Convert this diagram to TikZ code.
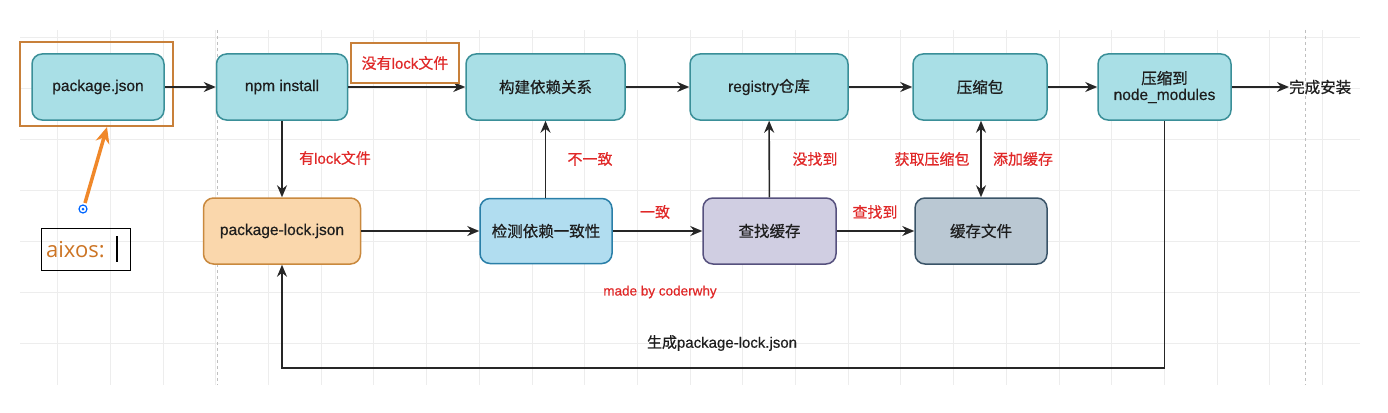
\documentclass[tikz,border=0pt]{standalone}
\usepackage{fontspec}
\setmainfont{Liberation Sans}[BoldFont={Liberation Sans}, BoldFeatures={FakeBold=0.5}]
\newfontfamily\cjk{Noto Sans CJK SC}[BoldFont={Noto Sans CJK SC}, BoldFeatures={FakeBold=0.6}]
\newfontfamily\aixfont{Open Sans}
\usetikzlibrary{arrows.meta}
\definecolor{tealfill}{HTML}{A9DFE6}
\definecolor{tealdraw}{HTML}{3A8F98}
\definecolor{orfill}{HTML}{FAD7AC}
\definecolor{ordraw}{HTML}{C9893E}
\definecolor{bluefill}{HTML}{B1DDF0}
\definecolor{bluedraw}{HTML}{2A7FA8}
\definecolor{lavfill}{HTML}{D0CEE2}
\definecolor{lavdraw}{HTML}{56517E}
\definecolor{grayfill}{HTML}{BAC8D3}
\definecolor{graydraw}{HTML}{3A5468}
\definecolor{redtxt}{HTML}{E02828}
\definecolor{framecol}{HTML}{C8803A}
\definecolor{arrowor}{HTML}{F0882A}
\definecolor{txt}{HTML}{1E1E1E}
\tikzset{
  box/.style={draw, rounded corners=10pt, line width=1.5pt, minimum height=66pt,
    inner sep=0pt, align=center, text=txt, font=\fontsize{15.5}{18}\selectfont\bfseries},
  tealbox/.style={box, fill=tealfill, draw=tealdraw},
  lbl/.style={text=redtxt, font=\fontsize{15}{17}\selectfont\bfseries, inner sep=1pt},
  conn/.style={line width=1.6pt, draw=black!85, -{Stealth[length=12pt,width=10pt]}},
  gridline/.style={draw=black!7, line width=0.8pt},
}
\begin{document}
\begin{tikzpicture}[x=1pt,y=-1pt]
\useasboundingbox (0,0) rectangle (1388,412);
% background grid
\foreach \k in {0,...,24} {\draw[gridline] ({57.6+52.7*\k},30) -- ({57.6+52.7*\k},385);}
\foreach \k in {0,...,6} {\draw[gridline] (20,{37+51*\k}) -- (1360,{37+51*\k});}
\draw[draw=black!25, line width=0.8pt, dashed] (217,30) -- (217,385);
\draw[draw=black!25, line width=0.8pt, dashed] (1305,30) -- (1305,385);

% nodes
\node[tealbox, minimum width=132pt] (pj) at (98,87) {package.json};
\node[tealbox, minimum width=131pt] (npm) at (282,87) {npm install};
\node[tealbox, minimum width=159pt] (dep) at (545.5,87) {\cjk 构建依赖关系};
\node[tealbox, minimum width=158pt] (reg) at (769,87) {registry{\cjk 仓库}};
\node[tealbox, minimum width=134pt] (zip) at (980,87) {\cjk 压缩包};
\node[tealbox, minimum width=133pt] (nm) at (1164.5,87) {{\cjk 压缩到}\\[-2pt]node\_modules};
\node[box, fill=orfill, draw=ordraw, minimum width=157pt] (lock) at (282,231) {package-lock.json};
\node[box, fill=bluefill, draw=bluedraw, minimum width=132pt, minimum height=65pt] (chk) at (546,231) {\cjk 检测依赖一致性};
\node[box, fill=lavfill, draw=lavdraw, minimum width=133pt] (find) at (769.5,231) {\cjk 查找缓存};
\node[box, fill=grayfill, draw=graydraw, minimum width=132pt] (cache) at (981,231) {\cjk 缓存文件};
\node[anchor=west, text=txt, inner sep=0pt, font=\fontsize{15.5}{18}\selectfont\bfseries] (done) at (1289,87) {\cjk 完成安装};

% annotation frame
\node[draw=framecol, line width=2pt, minimum width=153pt, minimum height=84pt, inner sep=0pt] (pjframe) at (96.5,84) {};

% connectors
\draw[conn] (pj) -- (npm);
\draw[conn] (npm) -- (dep);
\draw[conn] (dep) -- (reg);
\draw[conn] (reg) -- (zip);
\draw[conn] (zip) -- (nm);
\draw[conn] (nm) -- (done);
\draw[conn] (npm) -- (lock);
\draw[conn] (lock) -- (chk);
\draw[conn] (chk.north -| dep.south) -- (dep.south);
\draw[conn] (chk) -- (find);
\draw[conn] (find) -- (reg);
\draw[conn] (find) -- (cache);
\draw[line width=1.6pt, draw=black!85, {Stealth[length=12pt,width=10pt]}-{Stealth[length=12pt,width=10pt]}] (zip.south -| cache.north) -- (cache.north);
\coordinate (c1) at (1164.5,368);
\coordinate (c2) at (282,368);
\draw[conn] (nm.south) -- (c1) -- (c2) -- (lock.south);

% label over npm -> dep
\node[draw=framecol, line width=2pt, fill=white, minimum width=108pt, minimum height=40pt, inner sep=0pt, text=redtxt, font=\fontsize{15}{17}\selectfont\bfseries] (nolock) at (405,63) {{\cjk 没有}lock{\cjk 文件}};

% labels
\node[lbl] (l1) at (335,158) {{\cjk 有}lock{\cjk 文件}};
\node[lbl] (l2) at (590,159) {\cjk 不一致};
\node[lbl] (l3) at (815,159) {\cjk 没找到};
\node[lbl] (l4) at (932,159) {\cjk 获取压缩包};
\node[lbl] (l5) at (1023,159) {\cjk 添加缓存};
\node[lbl] (l6) at (655,212) {\cjk 一致};
\node[lbl] (l7) at (875,212) {\cjk 查找到};
\node[lbl, font=\fontsize{13.5}{16}\selectfont\bfseries] (made) at (660,292) {made by coderwhy};
\node[text=txt, font=\fontsize{15}{17}\selectfont\bfseries, inner sep=1pt] (gen) at (722,343) {{\cjk 生成}package-lock.json};

% orange pointer and aixos box
\coordinate (sp) at (83,209);
\draw[arrowor, line width=3.5pt, -{Stealth[length=16pt,width=14pt]}] (85,203) -- (pjframe.south -| 107,0);
\draw[draw=blue!60!cyan, line width=1.2pt] (sp) circle (4pt);
\fill[blue!60!cyan] (sp) circle (1.5pt);
\node[draw=black, line width=1pt, minimum width=89pt, minimum height=42pt, inner sep=0pt] (aix) at (85.5,249) {};
\node[anchor=west, text=arrowor!85!black, font=\fontsize{22}{26}\aixfont, inner sep=0pt] (aixt) at (46,250) {aixos:};
\draw[line width=1.5pt] (117,236) -- (117,262);
\end{tikzpicture}
\end{document}
